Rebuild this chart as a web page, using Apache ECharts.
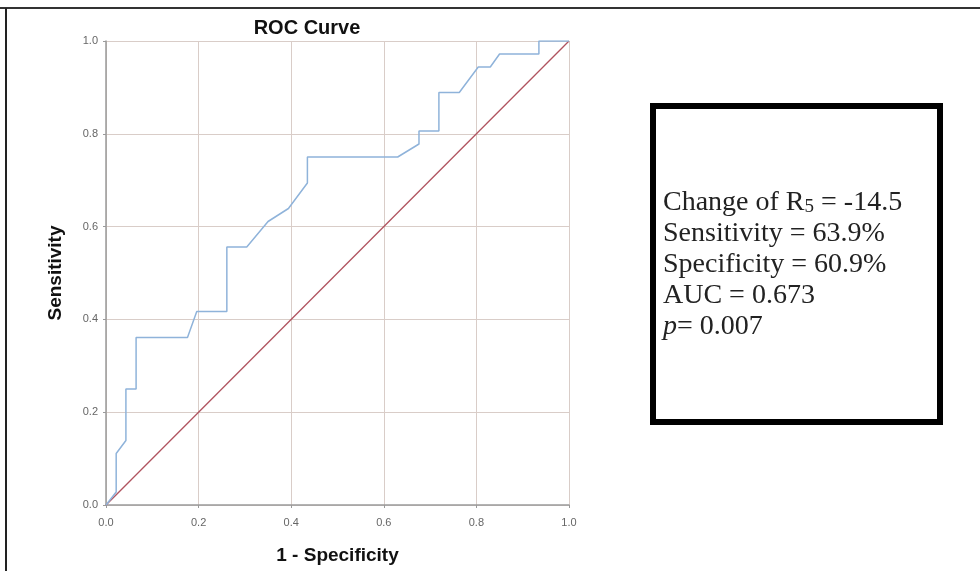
<!DOCTYPE html>
<html>
<head>
    <title>ROC Curve</title>
    <script src="https://cdn.jsdelivr.net/npm/echarts@6.0.0/dist/echarts.min.js"></script>
    <style>
        html, body { margin: 0; padding: 0; background: #fff; }
        #chart { width: 980px; height: 571px; }
    </style>
</head>
<body>
<div id="chart"></div>

<script>
    // ROC curve points (1 - specificity, sensitivity)
    var fpr = [0, 0.022, 0.022, 0.043, 0.043, 0.065, 0.065, 0.176, 0.196, 0.261, 0.261, 0.304, 0.350, 0.394, 0.435, 0.435,
               0.630, 0.676, 0.676, 0.719, 0.719, 0.763, 0.804, 0.830, 0.850, 0.935, 0.935, 1.0];
    var tpr = [0, 0.028, 0.111, 0.139, 0.250, 0.250, 0.361, 0.361, 0.417, 0.417, 0.556, 0.556, 0.611, 0.639, 0.694, 0.750,
               0.750, 0.778, 0.806, 0.806, 0.889, 0.889, 0.944, 0.944, 0.972, 0.972, 1.0, 1.0];
    var refX = [0, 1];
    var refY = [0, 1];
    var statLines = ['Change of R{sub|5} = -14.5', 'Sensitivity = 63.9%', 'Specificity = 60.9%', 'AUC = 0.673', '{it|p}= 0.007'];

    var rocData = fpr.map(function (x, i) { return [x, tpr[i]]; });
    var refData = refX.map(function (x, i) { return [x, refY[i]]; });

    var chart = echarts.init(document.getElementById('chart'));

    var gridColor = '#d9cdc8';
    var axisColor = '#9a9a9a';

    var axisCommon = {
        type: 'value',
        min: 0,
        max: 1,
        interval: 0.2,
        axisLine: { show: true, lineStyle: { color: axisColor, width: 1.5 } },
        axisTick: { show: true, length: 3, lineStyle: { color: axisColor } },
        axisLabel: {
            color: '#666',
            fontFamily: 'Liberation Sans',
            fontSize: 11,
            formatter: function (v) { return v.toFixed(1); }
        },
        splitLine: { show: true, lineStyle: { color: gridColor, width: 1 } },
        nameLocation: 'middle',
        nameTextStyle: {
            color: '#111',
            fontFamily: 'Liberation Sans',
            fontWeight: 'bold',
            fontSize: 19
        }
    };

    var option = {
        backgroundColor: '#fff',
        animation: false,
        title: {
            text: 'ROC Curve',
            left: 302,
            top: 6,
            textAlign: 'center',
            textStyle: {
                color: '#111',
                fontFamily: 'Liberation Sans',
                fontWeight: 'bold',
                fontSize: 20
            }
        },
        grid: { left: 106, right: 411, top: 41, bottom: 66, outerBoundsMode: 'none' },
        xAxis: Object.assign({}, axisCommon, {
            name: '1 - Specificity',
            nameGap: 34
        }),
        yAxis: Object.assign({}, axisCommon, {
            name: 'Sensitivity',
            nameGap: 34,
            nameRotate: 90
        }),
        series: [{
            name: 'Reference',
            type: 'line',
            data: refData,
            symbol: 'none',
            lineStyle: { color: '#b0535f', width: 1.3 },
            z: 2
        }, {
            name: 'ROC',
            type: 'line',
            data: rocData,
            symbol: 'none',
            lineStyle: { color: '#8fb3da', width: 1.5 },
            z: 3
        }],
        graphic: [
            // outer frame of the figure (top and left edges)
            { type: 'line', shape: { x1: 0, y1: 8, x2: 980, y2: 8 }, style: { stroke: '#333', lineWidth: 2 } },
            { type: 'line', shape: { x1: 6, y1: 8, x2: 6, y2: 571 }, style: { stroke: '#222', lineWidth: 2 } },
            // statistics box
            {
                type: 'rect',
                shape: { x: 653, y: 106, width: 287, height: 316 },
                style: { fill: '#fff', stroke: '#000', lineWidth: 6 }
            },
            {
                type: 'text',
                left: 663,
                top: 181,
                style: {
                    text: statLines.join('\n'),
                    fill: '#222',
                    font: '28px "Liberation Serif"',
                    lineHeight: 31,
                    rich: {
                        sub: { fontSize: 19, fontFamily: 'Liberation Serif', fill: '#222', padding: [10, 0, 0, 0] },
                        it: { fontSize: 28, fontFamily: 'Liberation Serif', fontStyle: 'italic', fill: '#222' }
                    }
                }
            }
        ]
    };

    chart.setOption(option);
</script>
</body>
</html>
